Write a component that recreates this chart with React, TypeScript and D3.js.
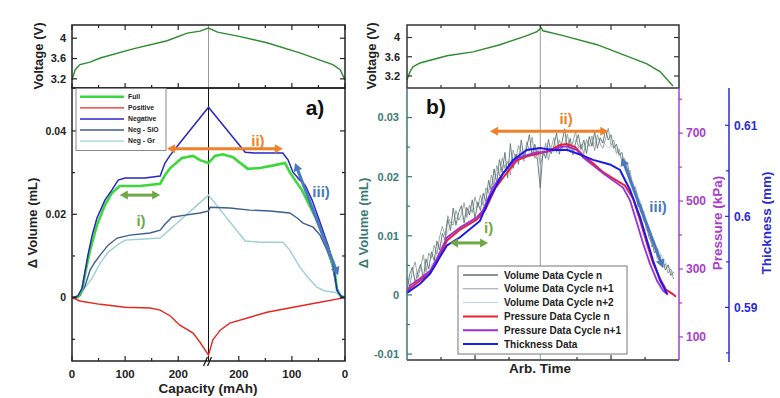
import React from 'react';
import * as d3 from 'd3';

const FONT = '"Liberation Sans", Arial, Helvetica, sans-serif';

type Pt = [number, number];

// ---------- panel a) : capacity (mAh); charge leg 0 -> CAP_MAX, discharge leg CAP_MAX -> 0
const CAP_MAX = 257;

const voltCharge: Pt[] = [[0, 3.18], [6, 3.38], [15, 3.48], [34, 3.53], [53, 3.61], [115, 3.79], [179, 3.95], [217, 4.1], [241, 4.14], [257, 4.2]];
const voltDischarge: Pt[] = [[257, 4.2], [240, 4.12], [197, 4.03], [147, 3.91], [85, 3.71], [47, 3.57], [23, 3.48], [9, 3.38], [0, 3.18]];

const fullCharge: Pt[] = [[0, 0], [11, 0.0001], [19, 0.0018], [26, 0.0066], [34, 0.0114], [47, 0.0174], [62, 0.0222], [75, 0.0251], [90, 0.0268], [128, 0.0268], [166, 0.0273], [175, 0.0294], [185, 0.0311], [207, 0.0335], [228, 0.034], [241, 0.033], [257, 0.0323]];
const fullDischarge: Pt[] = [[257, 0.0323], [245, 0.034], [230, 0.0344], [211, 0.0337], [183, 0.0309], [160, 0.0311], [132, 0.0318], [113, 0.0323], [104, 0.0301], [94, 0.0282], [81, 0.0258], [53, 0.0186], [32, 0.012], [19, 0.0059], [15, 0.0018], [8, 0.0004], [0, 0]];

const posCharge: Pt[] = [[0, 0], [15, -0.0008], [53, -0.0016], [100, -0.0023], [147, -0.0025], [166, -0.003], [185, -0.0044], [203, -0.0066], [228, -0.0085], [241, -0.0107], [257, -0.0138]];
const posDischarge: Pt[] = [[257, -0.0138], [249, -0.0102], [235, -0.0078], [217, -0.0061], [179, -0.0047], [147, -0.0035], [85, -0.002], [47, -0.0011], [0, 0]];

const negCharge: Pt[] = [[0, 0], [11, 0.0004], [19, 0.0023], [25, 0.0066], [30, 0.0102], [38, 0.015], [47, 0.0191], [62, 0.0234], [75, 0.0258], [87, 0.0282], [100, 0.0287], [137, 0.0287], [166, 0.0292], [175, 0.0323], [185, 0.0342], [203, 0.0371], [257, 0.0457]];
const negDischarge: Pt[] = [[257, 0.0457], [188, 0.0349], [170, 0.0347], [117, 0.0347], [107, 0.033], [98, 0.0301], [85, 0.0282], [75, 0.027], [62, 0.0234], [47, 0.0181], [32, 0.0126], [23, 0.0085], [15, 0.0018], [8, 0.0004], [0, 0]];

const sioCharge: Pt[] = [[0, 0], [15, 0.0004], [25, 0.003], [34, 0.0066], [43, 0.0085], [53, 0.0102], [68, 0.0126], [85, 0.0143], [109, 0.015], [147, 0.0155], [166, 0.0162], [175, 0.0176], [188, 0.0193], [213, 0.0198], [241, 0.0203], [257, 0.0208]];
const sioDischarge: Pt[] = [[257, 0.0208], [254, 0.0217], [217, 0.0215], [179, 0.021], [141, 0.0208], [104, 0.0203], [90, 0.0191], [79, 0.0179], [60, 0.0169], [47, 0.015], [34, 0.0114], [24, 0.0078], [17, 0.003], [9, 0.0004], [0, 0]];

const grCharge: Pt[] = [[0, 0], [11, 0.0004], [21, 0.0018], [38, 0.0047], [53, 0.0083], [68, 0.0109], [85, 0.0126], [100, 0.0138], [128, 0.014], [166, 0.0143], [257, 0.0246]];
const grDischarge: Pt[] = [[257, 0.0246], [188, 0.0136], [160, 0.0133], [117, 0.0133], [104, 0.0114], [85, 0.0073], [70, 0.0049], [53, 0.0025], [38, 0.0016], [19, 0.0013], [9, 0.0004], [0, 0]];

const capMajor = [0, 100, 200];
const capMinor = [50, 150];
const volMajorA = [0, 0.02, 0.04];
const volMinorA = [-0.01, 0.01, 0.03];
const voltTicks = [3.2, 3.6, 4];

const legendA = [
  { name: 'Full', color: '#3bd83b', width: 2.6 },
  { name: 'Positive', color: '#e8261f', width: 1.3 },
  { name: 'Negative', color: '#2727c4', width: 1.5 },
  { name: 'Neg - SiO', color: '#3d5f8f', width: 1.4 },
  { name: 'Neg - Gr', color: '#9fcfd6', width: 1.4 },
];

// ---------- panel b) : arbitrary time 0..100
const TURN = 49;
const voltB: Pt[] = [[0, 3.12], [1.1, 3.29], [2.2, 3.39], [4.8, 3.47], [14.7, 3.62], [24.3, 3.7], [34.2, 3.85], [44.1, 4.04], [47.8, 4.12], [49.3, 4.2], [50, 4.14], [57.4, 4.04], [69.9, 3.85], [88.2, 3.45], [93, 3.29], [97.8, 2.99]];

// time index for the volume logs (one sample per step)
const volTime = d3.range(0, 99);
const volCycleN = [
  0.0008, 0.0035, 0.0047, 0.0021, 0.0039, 0.0052, 0.0028, 0.0061, 0.0044, 0.0073,
  0.0058, 0.0091, 0.0076, 0.0104, 0.0093, 0.0128, 0.0109, 0.0147, 0.0118, 0.0139,
  0.0151, 0.0122, 0.0148, 0.0135, 0.0161, 0.0129, 0.0157, 0.0143, 0.0172, 0.0158,
  0.0194, 0.0176, 0.0213, 0.0189, 0.0229, 0.0207, 0.0241, 0.0198, 0.0256, 0.0214,
  0.0238, 0.0221, 0.0262, 0.0232, 0.0249, 0.0271, 0.0236, 0.0255, 0.0228, 0.0181,
  0.0244, 0.0231, 0.0263, 0.0239, 0.0252, 0.0274, 0.0238, 0.0259, 0.0281, 0.0243,
  0.0265, 0.0237, 0.0258, 0.0271, 0.0246, 0.0262, 0.0239, 0.0268, 0.0252, 0.0275,
  0.0248, 0.0266, 0.0257, 0.0279, 0.0262, 0.0271, 0.0248, 0.0255, 0.0236, 0.0241,
  0.0219, 0.0224, 0.0198, 0.0187, 0.0171, 0.0149, 0.0153, 0.0126, 0.0118, 0.0097,
  0.0089, 0.0071, 0.0078, 0.0055, 0.0061, 0.0042, 0.0051, 0.0033, 0.0039,
];
const volCycleN1 = [
  0.0031, 0.0014, 0.0042, 0.0056, 0.0029, 0.0047, 0.0068, 0.0039, 0.0071, 0.0062,
  0.0084, 0.0069, 0.0098, 0.0116, 0.0101, 0.0134, 0.0122, 0.0118, 0.0143, 0.0127,
  0.0136, 0.0156, 0.0131, 0.0152, 0.0139, 0.0166, 0.0148, 0.0169, 0.0151, 0.0181,
  0.0172, 0.0203, 0.0186, 0.0219, 0.0201, 0.0232, 0.0214, 0.0226, 0.0203, 0.0245,
  0.0229, 0.0253, 0.0241, 0.0226, 0.0259, 0.0244, 0.0267, 0.0231, 0.0249, 0.0221,
  0.0236, 0.0257, 0.0228, 0.0249, 0.0266, 0.0241, 0.0262, 0.0247, 0.0256, 0.0272,
  0.0241, 0.0259, 0.0276, 0.0248, 0.0255, 0.0239, 0.0263, 0.0251, 0.0269, 0.0244,
  0.0271, 0.0256, 0.0248, 0.0264, 0.0282, 0.0253, 0.0262, 0.0239, 0.0247, 0.0224,
  0.0231, 0.0206, 0.0211, 0.0179, 0.0183, 0.0158, 0.0139, 0.0142, 0.0109, 0.0114,
  0.0081, 0.0087, 0.0062, 0.0068, 0.0046, 0.0053, 0.0037, 0.0044, 0.0027,
];
const volTime2 = d3.range(0, 100, 2);
const volCycleN2 = [
  0.0024, 0.0031, 0.0038, 0.0043, 0.0046, 0.0057, 0.0085, 0.0097, 0.0118, 0.0131,
  0.0127, 0.0139, 0.0143, 0.0151, 0.0165, 0.0177, 0.0196, 0.0212, 0.0219, 0.0228,
  0.0236, 0.0241, 0.0246, 0.0238, 0.0229, 0.0236, 0.0249, 0.0241, 0.0252, 0.0248,
  0.0254, 0.0262, 0.0247, 0.0258, 0.0251, 0.0264, 0.0259, 0.0249, 0.0253, 0.0239,
  0.0226, 0.0204, 0.0179, 0.0155, 0.0126, 0.0101, 0.0079, 0.0063, 0.0047, 0.0038,
];

const presCycleN: Pt[] = [[0, 236], [4.8, 266], [8.5, 289], [11, 319], [14.7, 384], [19.5, 416], [25.7, 446], [28.7, 473], [32.4, 537], [36, 576], [40.4, 620], [44.1, 632], [48.9, 641], [52.6, 650], [56.3, 665], [58.8, 668], [61.8, 659], [64.7, 635], [68.4, 611], [72.1, 585], [75.7, 567], [80.1, 546], [83.1, 508], [85.7, 443], [88.2, 375], [90.4, 319], [93, 272], [95.2, 239], [97.6, 227], [98.9, 218]];
const presCycleN1: Pt[] = [[0, 230], [1.1, 251], [4.8, 272], [8.5, 295], [11, 331], [14.7, 393], [19.5, 422], [25.7, 452], [27.9, 473], [31.6, 540], [35.3, 582], [40.4, 626], [44.1, 635], [47.8, 644], [51.5, 644], [56.3, 659], [58.8, 662], [62.5, 650], [64.7, 629], [68.4, 605], [72.1, 582], [75.7, 561], [79.4, 540], [82, 502], [84.6, 434], [86.8, 375], [89.3, 316], [91.9, 266], [94.1, 236], [96, 224]];
const thickness: Pt[] = [[0, 0.5916], [4.8, 0.5926], [8.5, 0.5937], [11.4, 0.5952], [14.7, 0.5968], [19.5, 0.5977], [26.8, 0.5995], [30.5, 0.6021], [35.3, 0.6047], [39, 0.6062], [44.1, 0.6073], [48.9, 0.6075], [53.7, 0.6073], [58.8, 0.6073], [63.6, 0.6068], [68.4, 0.6062], [74.6, 0.6057], [78.3, 0.6051], [82, 0.6029], [85.7, 0.5999], [88.2, 0.5974], [90.4, 0.5952], [93, 0.593], [95.6, 0.5915]];

const timeMajor = [25, 75];
const timeMinor = [12.5, 37.5, 62.5, 87.5];
const volMajorB = [-0.01, 0, 0.01, 0.02, 0.03];
const volMinorB = [-0.005, 0.005, 0.015, 0.025];
const presMajor = [100, 300, 500, 700];
const presMinor = [200, 400, 600, 800];
const thickMajor = [0.59, 0.6, 0.61];
const thickMinor = [0.585, 0.595, 0.605];

const legendB = [
  { name: 'Volume Data Cycle n', color: '#5f7272', width: 1.4 },
  { name: 'Volume Data Cycle n+1', color: '#8e9e9e', width: 1 },
  { name: 'Volume Data Cycle n+2', color: '#b9d5d9', width: 1 },
  { name: 'Pressure Data Cycle n', color: '#e8203a', width: 2 },
  { name: 'Pressure Data Cycle n+1', color: '#9a30d6', width: 2 },
  { name: 'Thickness Data', color: '#1a1aee', width: 2 },
];

const GREEN = '#6fa845';
const ORANGE = '#f08128';
const BLUE = '#4a78c0';
const TEAL = '#3a7a76';
const PURPLE = '#a83ccc';
const THICK = '#2a2ad6';

function Arrow({ x1, y1, x2, y2, color }: { x1: number; y1: number; x2: number; y2: number; color: string }) {
  const a = Math.atan2(y2 - y1, x2 - x1);
  const L = 8;
  const hw = 4.5;
  const head = (x: number, y: number, ang: number) => {
    const bx = x - L * Math.cos(ang);
    const by = y - L * Math.sin(ang);
    return `M${x},${y}L${bx + hw * Math.sin(ang)},${by - hw * Math.cos(ang)}L${bx - hw * Math.sin(ang)},${by + hw * Math.cos(ang)}Z`;
  };
  return (
    <g>
      <line
        x1={x1 + L * 0.7 * Math.cos(a)}
        y1={y1 + L * 0.7 * Math.sin(a)}
        x2={x2 - L * 0.7 * Math.cos(a)}
        y2={y2 - L * 0.7 * Math.sin(a)}
        stroke={color}
        strokeWidth={3}
      />
      <path d={head(x2, y2, a)} fill={color} />
      <path d={head(x1, y1, a + Math.PI)} fill={color} />
    </g>
  );
}

export default function App() {
  // ---- panel a scales
  const xA = d3.scaleLinear().domain([0, 2 * CAP_MAX]).range([72, 345]);
  const chgX = (c: number) => xA(c);
  const disX = (c: number) => xA(2 * CAP_MAX - c);
  const yVA = d3.scaleLinear().domain([3.02, 4.26]).range([88, 25]);
  const yA = d3.scaleLinear().domain([-0.0152, 0.0503]).range([361, 88]);
  const pathA = (chg: Pt[], dis: Pt[], y: d3.ScaleLinear<number, number>) =>
    d3.line()([
      ...chg.map(([c, v]) => [chgX(c), y(v)] as [number, number]),
      ...dis.map(([c, v]) => [disX(c), y(v)] as [number, number]),
    ]) || '';

  const capTickXs = [
    ...capMajor.map((c) => ({ x: chgX(c), major: true })),
    ...capMinor.map((c) => ({ x: chgX(c), major: false })),
    ...capMajor.map((c) => ({ x: disX(c), major: true })),
    ...capMinor.map((c) => ({ x: disX(c), major: false })),
  ];

  // ---- panel b scales
  const xB = d3.scaleLinear().domain([0, 100]).range([407, 679]);
  const yVB = d3.scaleLinear().domain([2.95, 4.26]).range([88, 25]);
  const yB = d3.scaleLinear().domain([-0.011, 0.035]).range([360, 88]);
  const yP = d3.scaleLinear().domain([32, 833]).range([360, 88]);
  const yT = d3.scaleLinear().domain([0.584, 0.6141]).range([362, 88]);
  const lineOf = (pts: Pt[], y: d3.ScaleLinear<number, number>) =>
    d3.line<Pt>().x((d) => xB(d[0])).y((d) => y(d[1]))(pts) || '';
  const volPath = (times: number[], vals: number[]) =>
    d3.line<number>().x((_, i) => xB(times[i])).y((d) => yB(d))(vals) || '';

  const timeTickXs = [
    ...timeMajor.map((t) => ({ x: xB(t), major: true })),
    ...timeMinor.map((t) => ({ x: xB(t), major: false })),
  ];

  const tickFont = { fontFamily: FONT, fontWeight: 700 as const };

  return (
    <svg width={780} height={398} style={{ position: 'absolute', left: 0, top: 0, background: '#fff' }}>
      <rect width={780} height={398} fill="#fff" />

      {/* ================= panel a ================= */}
      <g>
        {/* voltage panel */}
        <line x1={xA(CAP_MAX)} x2={xA(CAP_MAX)} y1={25} y2={88} stroke="#999" strokeWidth={1} />
        <path d={pathA(voltCharge, voltDischarge, yVA)} fill="none" stroke="#2e8b2e" strokeWidth={1.4} />
        <rect x={72} y={25} width={273} height={63} fill="none" stroke="#222" strokeWidth={1.5} />
        {capTickXs.map((t, i) => (
          <g key={i}>
            <line x1={t.x} x2={t.x} y1={25} y2={25 + (t.major ? 5 : 3)} stroke="#222" strokeWidth={1.2} />
            <line x1={t.x} x2={t.x} y1={88} y2={88 - (t.major ? 5 : 3)} stroke="#222" strokeWidth={1.2} />
          </g>
        ))}
        {voltTicks.map((v) => (
          <g key={v}>
            <line x1={72} x2={77} y1={yVA(v)} y2={yVA(v)} stroke="#222" strokeWidth={1.2} />
            <line x1={345} x2={340} y1={yVA(v)} y2={yVA(v)} stroke="#222" strokeWidth={1.2} />
            <text x={66} y={yVA(v)} dy="0.35em" textAnchor="end" fontSize={11} fill="#222" {...tickFont}>
              {String(v)}
            </text>
          </g>
        ))}
        <text transform="translate(38,56) rotate(-90)" textAnchor="middle" dy="0.35em" fontSize={13} fill="#222" {...tickFont}>
          Voltage (V)
        </text>

        {/* main panel */}
        <line x1={xA(CAP_MAX)} x2={xA(CAP_MAX)} y1={88} y2={361} stroke="#111" strokeWidth={1} />
        <path d={pathA(grCharge, grDischarge, yA)} fill="none" stroke={legendA[4].color} strokeWidth={1.4} />
        <path d={pathA(sioCharge, sioDischarge, yA)} fill="none" stroke={legendA[3].color} strokeWidth={1.4} />
        <path d={pathA(fullCharge, fullDischarge, yA)} fill="none" stroke={legendA[0].color} strokeWidth={2.6} />
        <path d={pathA(negCharge, negDischarge, yA)} fill="none" stroke={legendA[2].color} strokeWidth={1.5} />
        <path d={pathA(posCharge, posDischarge, yA)} fill="none" stroke={legendA[1].color} strokeWidth={1.4} />
        <rect x={72} y={88} width={273} height={273} fill="none" stroke="#222" strokeWidth={1.5} />
        {capTickXs.map((t, i) => (
          <line key={i} x1={t.x} x2={t.x} y1={361} y2={361 - (t.major ? 5 : 3)} stroke="#222" strokeWidth={1.2} />
        ))}
        {[...volMajorA.map((v) => ({ v, major: true })), ...volMinorA.map((v) => ({ v, major: false }))].map((t, i) => (
          <g key={i}>
            <line x1={72} x2={72 + (t.major ? 5 : 3)} y1={yA(t.v)} y2={yA(t.v)} stroke="#222" strokeWidth={1.2} />
            <line x1={345} x2={345 - (t.major ? 5 : 3)} y1={yA(t.v)} y2={yA(t.v)} stroke="#222" strokeWidth={1.2} />
          </g>
        ))}
        {volMajorA.map((v) => (
          <text key={v} x={66} y={yA(v)} dy="0.35em" textAnchor="end" fontSize={10.5} fill="#222" {...tickFont}>
            {String(v)}
          </text>
        ))}
        {capMajor.map((c) => (
          <g key={c}>
            <text x={chgX(c)} y={378} textAnchor="middle" fontSize={11.5} fill="#222" {...tickFont}>{String(c)}</text>
            <text x={disX(c)} y={378} textAnchor="middle" fontSize={11.5} fill="#222" {...tickFont}>{String(c)}</text>
          </g>
        ))}
        {/* axis break */}
        <line x1={xA(CAP_MAX) - 5} y1={366} x2={xA(CAP_MAX) - 1} y2={357} stroke="#111" strokeWidth={1.2} />
        <line x1={xA(CAP_MAX) - 1} y1={366} x2={xA(CAP_MAX) + 3} y2={357} stroke="#111" strokeWidth={1.2} />
        <text x={208} y={393} textAnchor="middle" fontSize={13.5} fill="#222" {...tickFont}>Capacity (mAh)</text>
        <text transform="translate(32,223) rotate(-90)" textAnchor="middle" dy="0.35em" fontSize={13} fill="#222" {...tickFont}>
          Δ Volume (mL)
        </text>

        {/* legend a */}
        <rect x={76} y={88.5} width={90} height={62} fill="#fff" stroke="#888" strokeWidth={1} />
        {legendA.map((d, i) => (
          <g key={d.name} transform={`translate(0,${96.7 + i * 11.1})`}>
            <line x1={80} x2={124} y1={0} y2={0} stroke={d.color} strokeWidth={d.width} />
            <text x={128} y={0} dy="0.35em" fontSize={6.8} fill="#222" {...tickFont}>{d.name}</text>
          </g>
        ))}

        {/* annotations */}
        <Arrow x1={chgX(90)} y1={yA(0.0246)} x2={chgX(166)} y2={yA(0.0246)} color={GREEN} />
        <text x={chgX(130)} y={yA(0.0184)} dy="0.35em" textAnchor="middle" fontSize={15} fill={GREEN} {...tickFont}>i)</text>
        <Arrow x1={chgX(179)} y1={yA(0.0357)} x2={disX(117)} y2={yA(0.0357)} color={ORANGE} />
        <text x={disX(164)} y={yA(0.0376)} dy="0.35em" textAnchor="middle" fontSize={15} fill={ORANGE} {...tickFont}>ii)</text>
        <Arrow x1={disX(94)} y1={yA(0.0323)} x2={disX(13)} y2={yA(0.0054)} color={BLUE} />
        <text x={disX(45)} y={yA(0.0253)} dy="0.35em" textAnchor="middle" fontSize={15} fill={BLUE} {...tickFont}>iii)</text>
        <text x={315} y={108} dy="0.35em" textAnchor="middle" fontSize={21} fill="#111" {...tickFont}>a)</text>
      </g>

      {/* ================= panel b ================= */}
      <g>
        {/* voltage panel */}
        <line x1={xB(TURN)} x2={xB(TURN)} y1={25} y2={88} stroke="#999" strokeWidth={1} />
        <path d={lineOf(voltB, yVB)} fill="none" stroke="#2e8b2e" strokeWidth={1.4} />
        <rect x={407} y={25} width={272} height={63} fill="none" stroke="#333" strokeWidth={1.5} />
        {[...timeTickXs, { x: xB(TURN), major: false }].map((t, i) => (
          <g key={i}>
            <line x1={t.x} x2={t.x} y1={25} y2={25 + (t.major ? 5 : 3)} stroke="#333" strokeWidth={1.2} />
            <line x1={t.x} x2={t.x} y1={88} y2={88 - (t.major ? 5 : 3)} stroke="#333" strokeWidth={1.2} />
          </g>
        ))}
        {voltTicks.map((v) => (
          <g key={v}>
            <line x1={407} x2={412} y1={yVB(v)} y2={yVB(v)} stroke="#333" strokeWidth={1.2} />
            <line x1={679} x2={674} y1={yVB(v)} y2={yVB(v)} stroke="#333" strokeWidth={1.2} />
            <text x={400} y={yVB(v)} dy="0.35em" textAnchor="end" fontSize={11} fill="#222" {...tickFont}>
              {String(v)}
            </text>
          </g>
        ))}
        <text transform="translate(371,56) rotate(-90)" textAnchor="middle" dy="0.35em" fontSize={13} fill="#222" {...tickFont}>
          Voltage (V)
        </text>

        {/* main panel */}
        <line x1={xB(TURN)} x2={xB(TURN)} y1={88} y2={360} stroke="#999" strokeWidth={1} />
        <path d={volPath(volTime2, volCycleN2)} fill="none" stroke={legendB[2].color} strokeWidth={1} />
        <path d={volPath(volTime, volCycleN1)} fill="none" stroke={legendB[1].color} strokeWidth={0.9} />
        <path d={volPath(volTime, volCycleN)} fill="none" stroke={legendB[0].color} strokeWidth={0.9} />
        <path d={lineOf(presCycleN, yP)} fill="none" stroke={legendB[3].color} strokeWidth={2} />
        <path d={lineOf(presCycleN1, yP)} fill="none" stroke={legendB[4].color} strokeWidth={1.8} />
        <path d={lineOf(thickness, yT)} fill="none" stroke={legendB[5].color} strokeWidth={2} />

        {/* frame: bottom + volume axis + pressure axis */}
        <line x1={407} x2={679} y1={360} y2={360} stroke="#333" strokeWidth={1.5} />
        <line x1={407} x2={407} y1={88} y2={360} stroke={TEAL} strokeWidth={1.5} />
        <line x1={679} x2={679} y1={88} y2={360} stroke={PURPLE} strokeWidth={1.5} />
        {timeTickXs.map((t, i) => (
          <line key={i} x1={t.x} x2={t.x} y1={360} y2={360 - (t.major ? 5 : 3)} stroke="#333" strokeWidth={1.2} />
        ))}
        {[...volMajorB.map((v) => ({ v, major: true })), ...volMinorB.map((v) => ({ v, major: false }))].map((t, i) => (
          <line key={i} x1={407} x2={407 + (t.major ? 5 : 3)} y1={yB(t.v)} y2={yB(t.v)} stroke={TEAL} strokeWidth={1.2} />
        ))}
        {volMajorB.map((v) => (
          <text key={v} x={399} y={yB(v)} dy="0.35em" textAnchor="end" fontSize={11} fill={TEAL} {...tickFont}>
            {String(v)}
          </text>
        ))}
        <text transform="translate(363,223) rotate(-90)" textAnchor="middle" dy="0.35em" fontSize={13} fill={TEAL} {...tickFont}>
          Δ Volume (mL)
        </text>
        <text x={540} y={373} textAnchor="middle" fontSize={13.5} fill="#222" {...tickFont}>Arb. Time</text>

        {/* pressure axis */}
        {[...presMajor.map((v) => ({ v, major: true })), ...presMinor.map((v) => ({ v, major: false }))].map((t, i) => (
          <line key={i} x1={679} x2={679 + (t.major ? 4 : 3)} y1={yP(t.v)} y2={yP(t.v)} stroke={PURPLE} strokeWidth={1.2} />
        ))}
        {presMajor.map((v) => (
          <text key={v} x={686} y={yP(v)} dy="0.35em" fontSize={12} fill={PURPLE} {...tickFont}>{String(v)}</text>
        ))}
        <text transform="translate(717,223) rotate(-90)" textAnchor="middle" dy="0.35em" fontSize={13.5} fill={PURPLE} {...tickFont}>
          Pressure (kPa)
        </text>

        {/* thickness axis */}
        <line x1={729} x2={729} y1={88} y2={362} stroke={THICK} strokeWidth={1.5} />
        {[...thickMajor.map((v) => ({ v, major: true })), ...thickMinor.map((v) => ({ v, major: false }))].map((t, i) => (
          <line key={i} x1={729} x2={729 - (t.major ? 4 : 3)} y1={yT(t.v)} y2={yT(t.v)} stroke={THICK} strokeWidth={1.2} />
        ))}
        {thickMajor.map((v) => (
          <text key={v} x={734} y={yT(v)} dy="0.35em" fontSize={12} fill={THICK} {...tickFont}>{String(v)}</text>
        ))}
        <text transform="translate(766,223) rotate(-90)" textAnchor="middle" dy="0.35em" fontSize={13.5} fill={THICK} {...tickFont}>
          Thickness (mm)
        </text>

        {/* legend b */}
        <rect x={458} y={266} width={169} height={88} fill="#fff" stroke="#777" strokeWidth={1} />
        {legendB.map((d, i) => (
          <g key={d.name} transform={`translate(0,${275 + i * 13.8})`}>
            <line x1={463} x2={498} y1={0} y2={0} stroke={d.color} strokeWidth={d.width} />
            <text x={504} y={0} dy="0.35em" fontSize={10} fill="#222" {...tickFont}>{d.name}</text>
          </g>
        ))}

        {/* annotations */}
        <Arrow x1={xB(15.8)} y1={yB(0.0088)} x2={xB(29.8)} y2={yB(0.0088)} color={GREEN} />
        <text x={xB(30)} y={yB(0.0113)} dy="0.35em" textAnchor="middle" fontSize={15} fill={GREEN} {...tickFont}>i)</text>
        <Arrow x1={xB(30.5)} y1={yB(0.0277)} x2={xB(74)} y2={yB(0.0277)} color={ORANGE} />
        <text x={xB(58.5)} y={yB(0.0298)} dy="0.35em" textAnchor="middle" fontSize={15} fill={ORANGE} {...tickFont}>ii)</text>
        <Arrow x1={xB(79)} y1={yB(0.0232)} x2={xB(94.1)} y2={yB(0.0046)} color={BLUE} />
        <text x={xB(92.3)} y={yB(0.0149)} dy="0.35em" textAnchor="middle" fontSize={15} fill={BLUE} {...tickFont}>iii)</text>
        <text x={436} y={107} dy="0.35em" textAnchor="middle" fontSize={21} fill="#111" {...tickFont}>b)</text>
      </g>
    </svg>
  );
}
